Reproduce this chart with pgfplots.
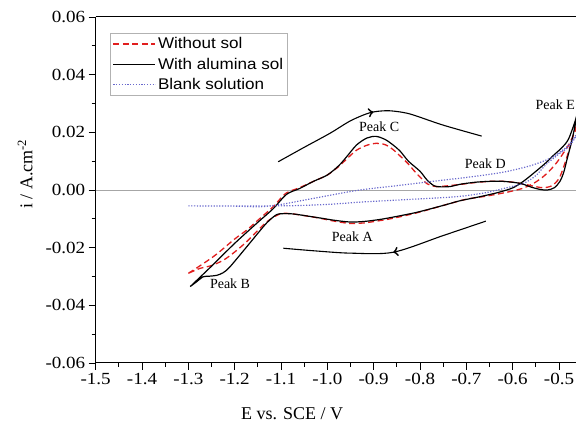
\documentclass[border=0pt]{standalone}
\usepackage{fontspec}
\setmainfont{Liberation Serif}
\setsansfont{Liberation Sans}[FakeStretch=1.1]
\newfontfamily\tickfont{Liberation Serif}[FakeStretch=1.12]
\usepackage{pgfplots}
\pgfplotsset{compat=1.18}
\usetikzlibrary{decorations.markings}

\definecolor{cvred}{RGB}{225,30,30}
\definecolor{cvblue}{RGB}{105,105,205}

\begin{document}
\begin{tikzpicture}
\begin{axis}[
  width=480.3pt, height=346pt, scale only axis,
  xmin=-1.5, xmax=-0.4633, ymin=-0.06, ymax=0.06,
  axis x line*=box, axis y line*=left,
  xtick={-1.5,-1.4,-1.3,-1.2,-1.1,-1.0,-0.9,-0.8,-0.7,-0.6,-0.5},
  ytick={-0.06,-0.04,-0.02,0,0.02,0.04,0.06},
  scaled y ticks=false, scaled x ticks=false,
  minor x tick num=1, minor y tick num=1,
  tick align=outside, tick pos=left,
  major tick length=7pt, minor tick length=4pt,
  axis line style={line width=1pt},
  tick style={line width=0.9pt, black},
  /pgf/number format/assume math mode=true,
  xticklabel style={/pgf/number format/fixed, /pgf/number format/fixed zerofill, /pgf/number format/precision=1},
  yticklabel style={/pgf/number format/fixed, /pgf/number format/fixed zerofill, /pgf/number format/precision=2},
  tick label style={font=\tickfont\fontsize{17}{20}\selectfont},
  xlabel={E vs. SCE / V},
  ylabel={i / A.cm\textsuperscript{-2}},
  label style={font=\fontsize{18}{21}\selectfont},
  x label style={at={(axis description cs:0.409,-0.147)}, anchor=center},
  y label style={at={(axis description cs:-0.147,0.546)}, anchor=center},
  legend cell align=left,
  legend style={at={(rel axis cs:0.0298,0.954)}, anchor=north west,
    draw=gray!60, font=\sffamily\fontsize{15.5}{17}\selectfont,
    row sep=3.5pt, inner sep=2.5pt},
  legend image code/.code={\draw[#1] (0pt,0pt) -- (42pt,0pt);},
]
% zero line
\addplot[gray!70, line width=0.9pt, forget plot] coordinates {(-1.5,0) (-0.4,0)};

% without sol
\addplot[color=cvred, draw=cvred, line width=1.3pt, dash pattern=on 6pt off 3.5pt, smooth, tension=0.5] coordinates {
  (-1.300,-0.0289) (-1.246,-0.0231) (-1.200,-0.0170) (-1.174,-0.0139) (-1.150,-0.0105)
  (-1.117,-0.0058) (-1.090,-0.0012) (-1.060,0.0008) (-1.030,0.0030) (-1.000,0.0052)
  (-0.975,0.0082) (-0.958,0.0108) (-0.937,0.0138) (-0.915,0.0155) (-0.894,0.0162)
  (-0.875,0.0157) (-0.858,0.0140) (-0.843,0.0118) (-0.825,0.0090) (-0.814,0.0069)
  (-0.800,0.0045) (-0.785,0.0022) (-0.770,0.0013) (-0.757,0.0012) (-0.720,0.0018)
  (-0.680,0.0026) (-0.649,0.0030) (-0.620,0.0030) (-0.590,0.0025) (-0.560,0.0015)
  (-0.535,0.0008) (-0.515,0.0015) (-0.500,0.0040) (-0.490,0.0080) (-0.478,0.0140)
  (-0.468,0.0195) (-0.455,0.0260)
  (-0.465,0.0205) (-0.478,0.0160) (-0.491,0.0127) (-0.505,0.0095) (-0.519,0.0069)
  (-0.535,0.0045) (-0.555,0.0023) (-0.580,0.0005) (-0.613,-0.0008) (-0.660,-0.0022)
  (-0.700,-0.0032) (-0.742,-0.0050) (-0.786,-0.0070) (-0.814,-0.0082) (-0.858,-0.0098)
  (-0.886,-0.0106) (-0.920,-0.0114) (-0.951,-0.0116) (-0.985,-0.0108) (-1.016,-0.0098)
  (-1.045,-0.0090) (-1.074,-0.0083) (-1.088,-0.0081) (-1.102,-0.0083) (-1.120,-0.0098)
  (-1.138,-0.0121) (-1.174,-0.0179) (-1.200,-0.0215) (-1.224,-0.0243) (-1.250,-0.0262)
  (-1.275,-0.0272) (-1.300,-0.0289)
};
\addlegendentry{Without sol}

% with alumina sol
\addplot[black, line width=1.2pt, smooth, tension=0.5] coordinates {
  (-1.296,-0.0335) (-1.246,-0.0258) (-1.200,-0.0185) (-1.150,-0.0112) (-1.117,-0.0065)
  (-1.088,-0.0015) (-1.060,0.0005) (-1.030,0.0030) (-1.000,0.0052) (-0.975,0.0085)
  (-0.958,0.0116) (-0.937,0.0156) (-0.915,0.0180) (-0.895,0.0186) (-0.875,0.0175)
  (-0.858,0.0156) (-0.843,0.0135) (-0.825,0.0100) (-0.800,0.0065) (-0.785,0.0035)
  (-0.770,0.0015) (-0.757,0.0011) (-0.735,0.0012) (-0.713,0.0020) (-0.680,0.0027)
  (-0.649,0.0030) (-0.620,0.0030) (-0.584,0.0023) (-0.560,0.0010) (-0.541,0.0002)
  (-0.525,0.0000) (-0.510,0.0008) (-0.498,0.0030) (-0.490,0.0060) (-0.483,0.0104)
  (-0.474,0.0160) (-0.465,0.0225) (-0.455,0.0300)
  (-0.465,0.0240) (-0.480,0.0175) (-0.495,0.0145) (-0.512,0.0120) (-0.530,0.0092)
  (-0.555,0.0058) (-0.577,0.0030) (-0.599,0.0008) (-0.630,-0.0008) (-0.670,-0.0023)
  (-0.713,-0.0037) (-0.742,-0.0050) (-0.786,-0.0069) (-0.814,-0.0080) (-0.858,-0.0094)
  (-0.886,-0.0102) (-0.920,-0.0109) (-0.951,-0.0111) (-0.985,-0.0105) (-1.016,-0.0097)
  (-1.040,-0.0091) (-1.074,-0.0083) (-1.095,-0.0082) (-1.109,-0.0085) (-1.125,-0.0105)
  (-1.138,-0.0127) (-1.174,-0.0197) (-1.210,-0.0266) (-1.225,-0.0287) (-1.239,-0.0296)
  (-1.255,-0.0299) (-1.268,-0.0301) (-1.282,-0.0318) (-1.296,-0.0335)
};
\addlegendentry{With alumina sol}

% blank solution
\addplot[color=cvblue, line width=1.2pt, dash pattern=on 1.2pt off 1.6pt, smooth, tension=0.5] coordinates {
  (-1.300,-0.0055) (-1.200,-0.0056) (-1.145,-0.0058) (-1.100,-0.0050) (-1.050,-0.0035)
  (-1.000,-0.0020) (-0.930,0.0000) (-0.850,0.0015) (-0.757,0.0033) (-0.713,0.0041)
  (-0.660,0.0052) (-0.613,0.0064) (-0.560,0.0085) (-0.519,0.0110) (-0.495,0.0135)
  (-0.483,0.0150) (-0.470,0.0175) (-0.455,0.0210)
  (-0.476,0.0155) (-0.500,0.0125) (-0.527,0.0090) (-0.550,0.0050) (-0.577,0.0023)
  (-0.620,0.0005) (-0.660,-0.0010) (-0.713,-0.0022) (-0.757,-0.0027) (-0.850,-0.0035)
  (-0.929,-0.0042) (-1.000,-0.0050) (-1.100,-0.0055) (-1.300,-0.0055)
};
\addlegendentry{Blank solution}

% scan direction arrows
\addplot[black, line width=1.1pt, smooth, forget plot, postaction={decorate},
  decoration={markings, mark=at position 0.49 with {\arrow[scale=1.6]{>}}}] coordinates {
  (-1.106,0.0098) (-1.050,0.0148) (-0.994,0.0197) (-0.950,0.0240) (-0.908,0.0268)
  (-0.872,0.0275) (-0.840,0.0270) (-0.814,0.0260) (-0.750,0.0225) (-0.667,0.0187)
};
\addplot[black, line width=1.1pt, smooth, forget plot, postaction={decorate},
  decoration={markings, mark=at position 0.47 with {\arrow[scale=1.6]{>}}}] coordinates {
  (-0.658,-0.0108) (-0.750,-0.0158) (-0.858,-0.0216) (-0.950,-0.0219) (-1.020,-0.0212)
  (-1.095,-0.0202)
};

\node[font=\fontsize{14}{16}\selectfont] at (-0.888,0.0218) {Peak C};
\node[font=\fontsize{14}{16}\selectfont] at (-0.659,0.0090) {Peak D};
\node[font=\fontsize{14}{16}\selectfont] at (-0.508,0.0295) {Peak E};
\node[font=\fontsize{14}{16}\selectfont] at (-0.946,-0.0163) {Peak A};
\node[font=\fontsize{14}{16}\selectfont] at (-1.210,-0.0326) {Peak B};
\end{axis}
\pgfresetboundingbox
\path ([xshift=-95.7pt,yshift=-60pt]current axis.south west) rectangle ([yshift=17pt]current axis.north east);
\end{tikzpicture}
\end{document}
